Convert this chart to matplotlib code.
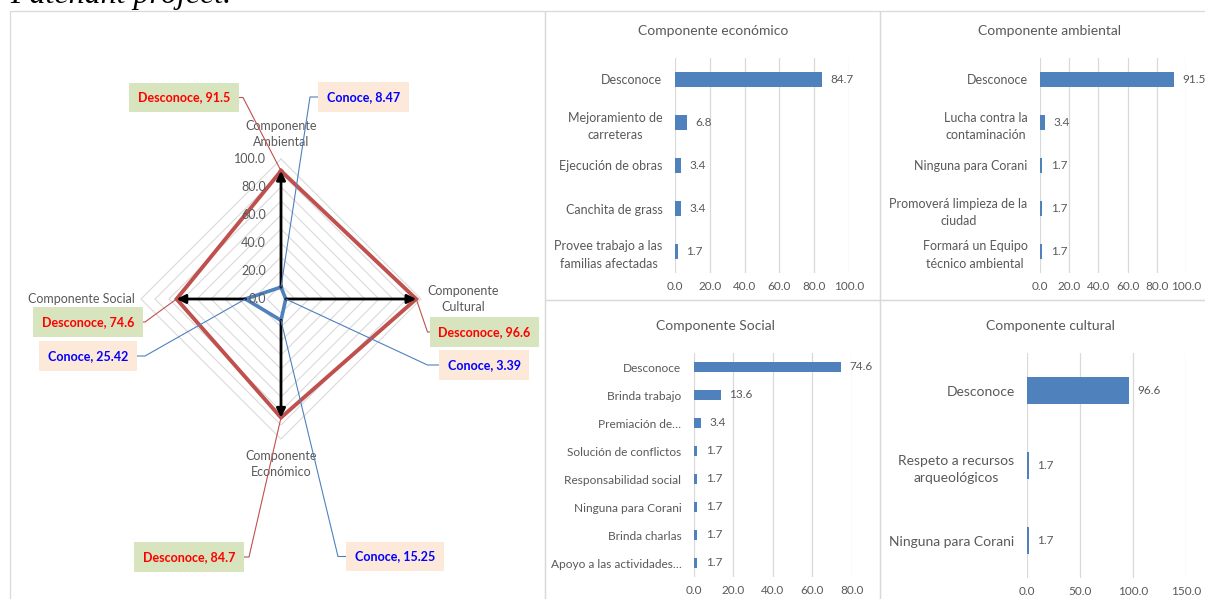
import math
import matplotlib
matplotlib.use('Agg')
import matplotlib.pyplot as plt
from matplotlib.patches import Rectangle

plt.rcParams['font.family'] = ['Lato', 'DejaVu Sans']

W, H = 1205, 599
GRAY_TXT = '#595959'
GRID = '#D9D9D9'
BLUE = '#4F81BD'
RED = '#C0504D'

# radar data (clockwise from top)
radar_cats = ['Componente\nAmbiental', 'Componente\nCultural', 'Componente\nEconómico', 'Componente Social']
desconoce = [91.5, 96.6, 84.7, 74.6]
conoce = [8.47, 3.39, 15.25, 25.42]
radar_ticks = [0, 20, 40, 60, 80, 100]

# bar charts
eco_cats = ['Desconoce', 'Mejoramiento de\ncarreteras', 'Ejecución de obras', 'Canchita de grass',
            'Provee trabajo a las\nfamilias afectadas']
eco_vals = [84.7, 6.8, 3.4, 3.4, 1.7]
amb_cats = ['Desconoce', 'Lucha contra la\ncontaminación', 'Ninguna para Corani',
            'Promoverá limpieza de la\nciudad', 'Formará un Equipo\ntécnico ambiental']
amb_vals = [91.5, 3.4, 1.7, 1.7, 1.7]
soc_cats = ['Desconoce', 'Brinda trabajo', 'Premiación de…', 'Solución de conflictos',
            'Responsabilidad social', 'Ninguna para Corani', 'Brinda charlas', 'Apoyo a las actividades…']
soc_vals = [74.6, 13.6, 3.4, 1.7, 1.7, 1.7, 1.7, 1.7]
cul_cats = ['Desconoce', 'Respeto a recursos\narqueológicos', 'Ninguna para Corani']
cul_vals = [96.6, 1.7, 1.7]


def frect(x0, y0, x1, y1):
    # image pixel box (top-left origin) -> figure fraction rect
    return [x0 / W, 1 - y1 / H, (x1 - x0) / W, (y1 - y0) / H]


fig = plt.figure(figsize=(W / 100, H / 100), dpi=100)

# panel borders
for x0, y0, x1, y1 in [(10, 11, 545, 605), (545, 11, 880, 300), (880, 11, 1210, 300),
                       (545, 300, 880, 605), (880, 300, 1210, 605)]:
    fig.add_artist(Rectangle((x0 / W, 1 - y1 / H), (x1 - x0) / W, (y1 - y0) / H,
                             transform=fig.transFigure, fill=False, ec=GRID, lw=0.9))

fig.text(10 / W, 1 - 3.5 / H, 'Patenant project.', fontfamily='Liberation Serif', style='italic',
         fontsize=23, va='baseline', ha='left', color='black')

# ---------------- radar ----------------
cx, cy, s = 281, 299, 1.40
px0, py0, px1, py1 = 10, 11, 545, 599
rax = fig.add_axes(frect(px0, py0, px1, py1))
rax.set_xlim((px0 - cx) / s, (px1 - cx) / s)
rax.set_ylim(-(py1 - cy) / s, (cy - py0) / s)
rax.axis('off')

angs = [90, 0, -90, 180]
dx = [round(math.cos(math.radians(a))) for a in angs]
dy = [round(math.sin(math.radians(a))) for a in angs]

for r in range(10, 101, 10):
    rax.plot([r * d for d in dx + dx[:1]], [r * d for d in dy + dy[:1]], color=GRID, lw=0.8, zorder=1)

rax.plot([v * d for v, d in zip(desconoce + desconoce[:1], dx + dx[:1])],
         [v * d for v, d in zip(desconoce + desconoce[:1], dy + dy[:1])],
         color=RED, lw=2.8, zorder=3, solid_joinstyle='miter')
rax.plot([v * d for v, d in zip(conoce + conoce[:1], dx + dx[:1])],
         [v * d for v, d in zip(conoce + conoce[:1], dy + dy[:1])],
         color=BLUE, lw=2.6, zorder=3, solid_joinstyle='miter')

for i in range(4):
    rax.annotate('', xy=(desconoce[i] * dx[i], desconoce[i] * dy[i]),
                 xytext=(conoce[i] * dx[i], conoce[i] * dy[i]),
                 arrowprops=dict(arrowstyle='-|>', color='black', lw=2.0, mutation_scale=13,
                                 shrinkA=0, shrinkB=0), zorder=5)

for t in radar_ticks:
    rax.annotate(f'{t:.1f}', xy=(0, t), xytext=(-15, 0), textcoords='offset pixels',
                 ha='right', va='center', fontsize=9, color=GRAY_TXT, zorder=4)

cat_off = [(0, 25, 'center'), (42, 0, 'center'), (0, -25, 'center'), (-6, 0, 'right')]
for i, name in enumerate(radar_cats):
    ox, oy, ha = cat_off[i]
    rax.annotate(name, xy=(100 * dx[i], 100 * dy[i]), xytext=(ox, oy), textcoords='offset pixels',
                 ha=ha, va='center', fontsize=9, color=GRAY_TXT, linespacing=1.35,
                 multialignment='center', zorder=4)

# data label boxes: (box center x, y, stub end x) in image pixels
des_boxes = [(184, 97.5, 243), (484.5, 332, 427.5), (189, 557, 249), (88, 322, 145)]
con_boxes = [(363.5, 97, 310), (484, 365, 427.5), (395, 556.5, 338), (88, 356, 145)]


def label(val, i, box, prefix, tcol, fcol, lcol):
    bx, by, sx = box
    px, py = rax.transData.transform((val * dx[i], val * dy[i]))
    sy = H - by
    angb = math.degrees(math.atan2(sy - py, sx - px))
    relx = 1 if sx > bx else 0
    rax.annotate(f'{prefix}, {val:g}', xy=(val * dx[i], val * dy[i]), xytext=(bx, H - by),
                 textcoords='figure pixels', ha='center', va='center', fontsize=9,
                 fontweight='bold', color=tcol, zorder=6,
                 bbox=dict(boxstyle='square,pad=0.7', fc=fcol, ec='none'),
                 arrowprops=dict(arrowstyle='-', color=lcol, lw=0.8, shrinkA=0, shrinkB=0,
                                 relpos=(relx, 0.5),
                                 connectionstyle=f'angle,angleA=0,angleB={angb},rad=0'))


for i in range(4):
    label(desconoce[i], i, des_boxes[i], 'Desconoce', '#FF0000', '#D7E4BD', RED)
    label(conoce[i], i, con_boxes[i], 'Conoce', '#0000FF', '#FDE9D9', BLUE)


# ---------------- bar charts ----------------
def bars(rect, cats, vals, xmax, step, title, tpos, lsize, bh):
    ax = fig.add_axes(frect(*rect))
    n = len(cats)
    b = ax.barh(range(n), vals, height=bh, color=BLUE, zorder=3)
    ax.set_ylim(n - 0.5, -0.5)
    ax.set_xlim(0, xmax)
    ax.set_xticks([step * k for k in range(int(round(xmax / step)) + 1)])
    ax.set_xticklabels([f'{step * k:.1f}' for k in range(int(round(xmax / step)) + 1)])
    ax.set_yticks(range(n))
    ax.set_yticklabels(cats)
    for t in ax.get_yticklabels():
        t.set_multialignment('center')
        t.set_linespacing(1.55)
    ax.tick_params(axis='y', length=0, pad=9, labelsize=lsize, labelcolor=GRAY_TXT)
    ax.tick_params(axis='x', length=0, pad=6, labelsize=8.5, labelcolor=GRAY_TXT)
    ax.grid(axis='x', color=GRID, lw=0.9, zorder=0)
    for sp in ax.spines.values():
        sp.set_visible(False)
    ax.set_facecolor('none')
    for t in ax.bar_label(b, labels=[f'{v:.1f}' for v in vals], padding=6, fontsize=8.5,
                          color=GRAY_TXT):
        t.set_clip_on(False)
    fig.text(tpos[0] / W, 1 - tpos[1] / H, title, ha='center', va='center', fontsize=10,
             color=GRAY_TXT)
    return ax


bars((675, 58, 849, 273), eco_cats, eco_vals, 100, 20, 'Componente económico', (713, 31), 9, 0.33)
bars((1040, 58, 1186, 273), amb_cats, amb_vals, 100, 20, 'Componente ambiental', (1050, 31), 9, 0.33)
bars((694, 353, 852, 577), soc_cats, soc_vals, 80, 20, 'Componente Social', (715, 326), 8.6, 0.34)
bars((1027, 353, 1186, 578), cul_cats, cul_vals, 150, 50, 'Componente cultural', (1050, 326), 10, 0.35)

fig.savefig('out.png', dpi=100, facecolor='white')
